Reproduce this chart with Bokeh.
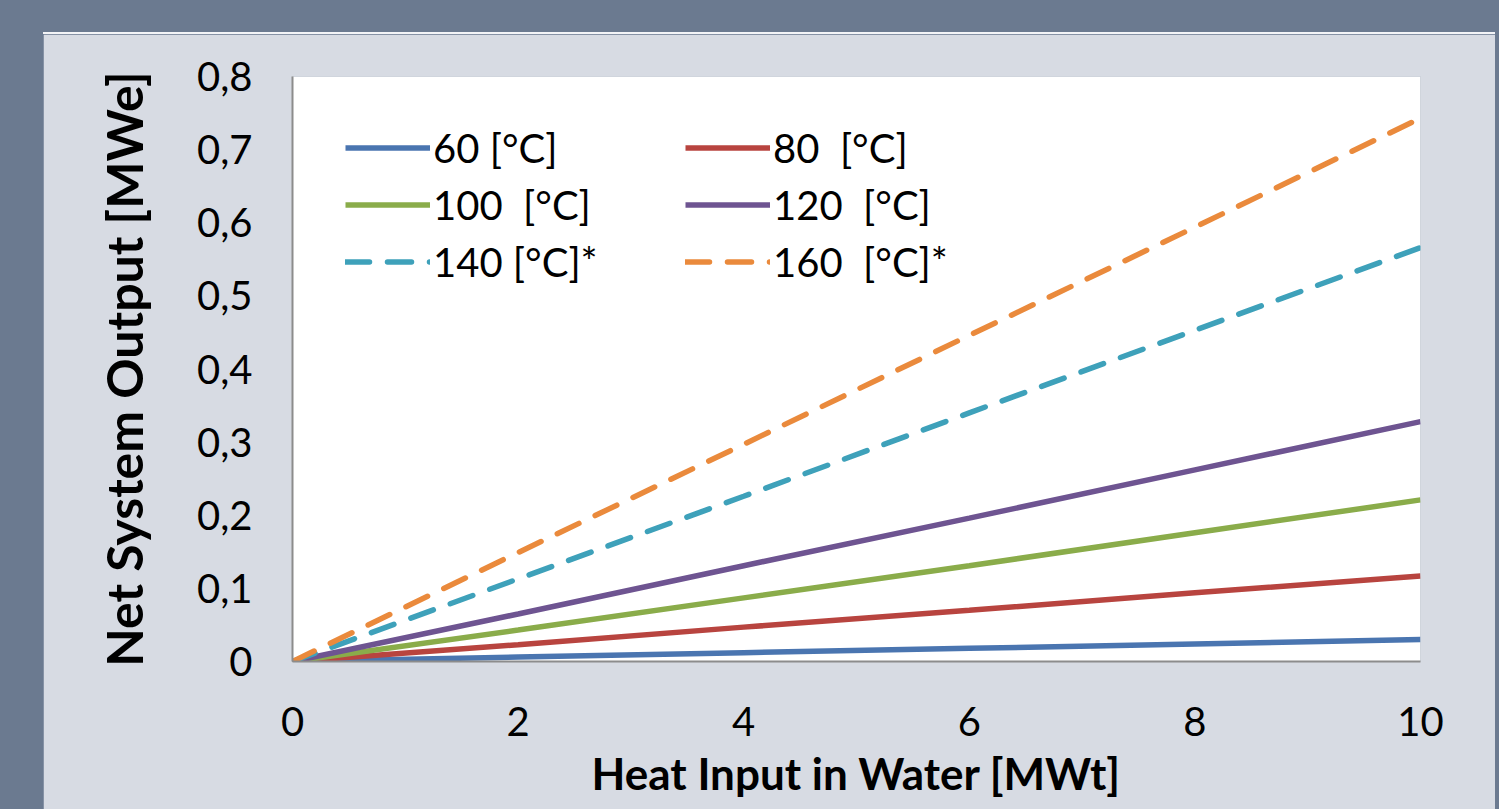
from bokeh.plotting import figure
from bokeh.models import Range1d, FixedTicker, CustomJSTickFormatter, Legend, LegendItem
from bokeh.embed import file_html
from bokeh.resources import INLINE

heat_input = [0, 2, 4, 6, 8, 10]
out_60 = [0, 0.006, 0.012, 0.018, 0.024, 0.030]
out_80 = [0, 0.023, 0.047, 0.070, 0.094, 0.117]
out_100 = [0, 0.043, 0.087, 0.131, 0.176, 0.221]
out_120 = [0, 0.065, 0.131, 0.196, 0.262, 0.328]
out_140 = [0, 0.113, 0.226, 0.340, 0.453, 0.566]
out_160 = [0, 0.149, 0.297, 0.446, 0.594, 0.743]
labels = ["60 [°C]", "80  [°C]", "100  [°C]", "120  [°C]", "140 [°C]*", "160  [°C]*"]
x_ticks = [0, 2, 4, 6, 8, 10]
y_ticks = [0, 0.1, 0.2, 0.3, 0.4, 0.5, 0.6, 0.7, 0.8]

SLATE = "#6b7a90"
PANEL = "#d7dbe3"
FONT = "Lato"

p = figure(output_backend="svg", toolbar_location=None,
           frame_width=1128, frame_height=585,
           min_border_left=249, min_border_right=75, min_border_top=42, min_border_bottom=148,
           x_range=Range1d(0, 10), y_range=Range1d(0, 0.8),
           background_fill_color="white", border_fill_color=PANEL,
           outline_line_color=None, margin=(32, 0, 0, 43),
           styles={"border-top": "2px solid #f3f4f7"})

p.xgrid.visible = False
p.ygrid.visible = False

for ax in (p.xaxis[0], p.yaxis[0]):
    ax.axis_line_color = "#8c8c8c"
    ax.axis_line_width = 2
    ax.major_tick_line_color = None
    ax.minor_tick_line_color = None
    ax.major_label_text_font = FONT
    ax.major_label_text_font_size = "40px"
    ax.major_label_text_color = "black"
    ax.axis_label_text_font = FONT
    ax.axis_label_text_font_style = "bold"
    ax.axis_label_text_color = "black"

p.xaxis.axis_label_text_font_size = "44px"
p.yaxis.axis_label_text_font_size = "50px"
p.xaxis.ticker = FixedTicker(ticks=x_ticks)
p.yaxis.ticker = FixedTicker(ticks=y_ticks)
p.yaxis.formatter = CustomJSTickFormatter(
    code="return tick == 0 ? '0' : tick.toFixed(1).replace('.', ',');")
p.xaxis.major_label_standoff = 39
p.yaxis.major_label_standoff = 34
p.xaxis.axis_label = "Heat Input in Water [MWt]"
p.yaxis.axis_label = "Net System Output [MWe]"
p.xaxis.axis_label_standoff = 8
p.yaxis.axis_label_standoff = 40

series = [out_60, out_80, out_100, out_120, out_140, out_160]
colors = ["#4a75b0", "#b8443f", "#8aac4a", "#6e5491", "#3ea1ba", "#ea8a3c"]
dashes = ["solid", "solid", "solid", "solid", "24 18", "24 18"]

items = []
for lab, ys, c, d in zip(labels, series, colors, dashes):
    r = p.line(heat_input, ys, line_color=c, line_width=5.5, line_dash=d,
               line_cap="round" if d != "solid" else "butt")
    items.append(LegendItem(label=lab, renderers=[r]))

# legend fills columns first: reorder so rows read 60/80, 100/120, 140/160
order = [0, 2, 4, 1, 3, 5]
legend = Legend(items=[items[i] for i in order], ncols=2, location=(53, 371),
                margin=0, padding=0, spacing=0,
                glyph_width=85, glyph_height=57, label_height=57,
                label_width=252, label_standoff=3,
                label_text_font=FONT, label_text_font_size="40px",
                label_text_color="black",
                background_fill_alpha=0, border_line_color=None)
p.add_layout(legend)

html = file_html(p, INLINE)
html = html.replace("<head>", "<head><style>html,body{background:%s;}</style>" % SLATE, 1)
open("out.html", "w").write(html)
